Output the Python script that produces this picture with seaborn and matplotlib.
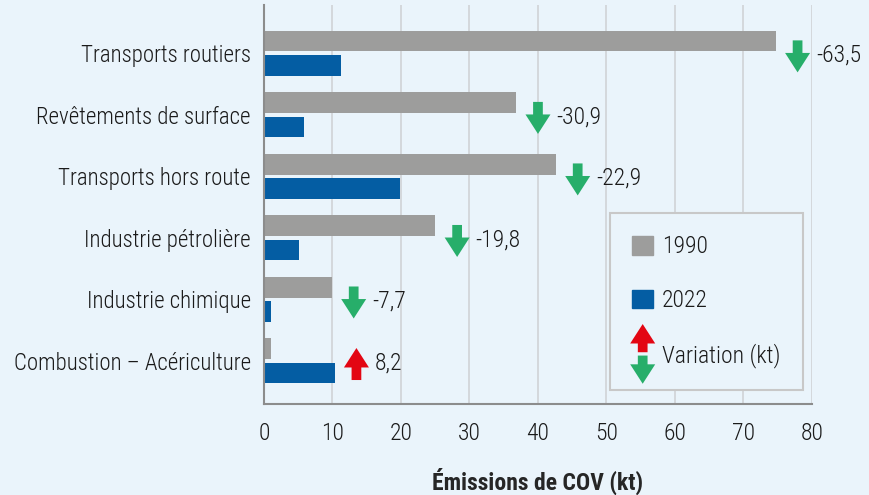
import matplotlib
matplotlib.use("Agg")
import matplotlib.pyplot as plt
from matplotlib.patches import Patch, FancyArrowPatch
from matplotlib.legend_handler import HandlerBase
import numpy as np
import pandas as pd
import seaborn as sns

# data (kt)
sources = ["Transports routiers", "Revêtements de surface", "Transports hors route",
           "Industrie pétrolière", "Industrie chimique", "Combustion – Acériculture"]
em_1990 = [74.7, 36.8, 42.6, 25.0, 9.9, 1.0]
em_2022 = [11.2, 5.8, 19.8, 5.1, 1.0, 10.3]
variation = [-63.5, -30.9, -22.9, -19.8, -7.7, 8.2]
years = ["1990", "2022"]

bg = "#EAF4FB"
gray = "#9D9D9C"
blue = "#045DA3"
green = "#27AE6A"
red = "#E30613"

sns.set_style("white")
plt.rcParams["font.family"] = ["Roboto Condensed", "DejaVu Sans"]
plt.rcParams["font.weight"] = "light"
plt.rcParams["text.color"] = "#1a1a1a"
plt.rcParams["xtick.color"] = "#1a1a1a"
plt.rcParams["ytick.color"] = "#1a1a1a"

df = pd.DataFrame({
    "Source": sources * 2,
    "Année": [years[0]] * len(sources) + [years[1]] * len(sources),
    "kt": em_1990 + em_2022,
})

fig = plt.figure(figsize=(8.7, 4.95), dpi=100, facecolor=bg)
ax = fig.add_axes([0.3034, 0.1838, 0.6299, 0.8061])
ax.set_facecolor(bg)

sns.barplot(data=df, y="Source", x="kt", hue="Année", orient="h",
            palette={"1990": gray, "2022": blue}, saturation=1,
            width=0.79, gap=0.15, legend=False, linewidth=0, ax=ax)

ax.set_xlim(0, 80)
ax.set_ylim(5.70, -0.785)
ax.set_xticks(np.arange(0, 81, 10))
ax.xaxis.grid(True, color="#d2d6d9", linewidth=1.3)
ax.set_axisbelow(True)
for s in ["top", "right"]:
    ax.spines[s].set_visible(False)
for s in ["left", "bottom"]:
    ax.spines[s].set_color("#8c8c8c")
    ax.spines[s].set_linewidth(1.5)
ax.tick_params(axis="y", length=0, pad=9.5, labelsize=16.5)
ax.tick_params(axis="x", length=8, width=1, color="#8c8c8c", pad=5, labelsize=17)
ax.set_ylabel("")
ax.set_xlabel("Émissions de COV (kt)", fontsize=17, fontweight="bold", labelpad=16)

ARROW = "simple,head_length=14,head_width=18,tail_width=7"

# variation arrows and labels
for i, v in enumerate(variation):
    xa = max(em_1990[i], em_2022[i]) + 3.2
    top, bottom = i - 0.21, i + 0.31
    if v < 0:
        start, end, col = (xa, top), (xa, bottom), green
    else:
        start, end, col = (xa, bottom), (xa, top), red
    ax.annotate("", xy=end, xytext=start, annotation_clip=False,
                arrowprops=dict(arrowstyle=ARROW, mutation_scale=1,
                                color=col, shrinkA=0, shrinkB=0, lw=0))
    ax.text(xa + 2.7, i + 0.03, f"{v:.1f}".replace(".", ","), fontsize=17,
            va="center", ha="left", clip_on=False)


class VariationHandler(HandlerBase):
    def create_artists(self, legend, orig_handle, xdescent, ydescent,
                       width, height, fontsize, trans):
        cx = width / 2 - xdescent
        cy = height / 2 - ydescent
        up = FancyArrowPatch((cx, cy + 1.2), (cx, cy + 21.5), arrowstyle=ARROW,
                             mutation_scale=1, color=red, lw=0, transform=trans,
                             shrinkA=0, shrinkB=0)
        down = FancyArrowPatch((cx, cy - 1.2), (cx, cy - 21.5), arrowstyle=ARROW,
                               mutation_scale=1, color=green, lw=0, transform=trans,
                               shrinkA=0, shrinkB=0)
        return [up, down]


handles = [Patch(color=gray), Patch(color=blue), "variation"]
labels = ["1990", "2022", "Variation (kt)"]
leg = ax.legend(handles, labels, loc="upper right", bbox_to_anchor=(0.9836, 0.4787),
                borderaxespad=0, fontsize=17, frameon=True, fancybox=False,
                facecolor=bg, edgecolor="#c8c8c8", framealpha=1,
                handlelength=0.88, handleheight=0.85, handletextpad=0.38,
                labelspacing=1.3, borderpad=0.95,
                handler_map={str: VariationHandler()})
leg.get_frame().set_linewidth(1.5)

fig.savefig("out.png", dpi=100, facecolor=bg)
